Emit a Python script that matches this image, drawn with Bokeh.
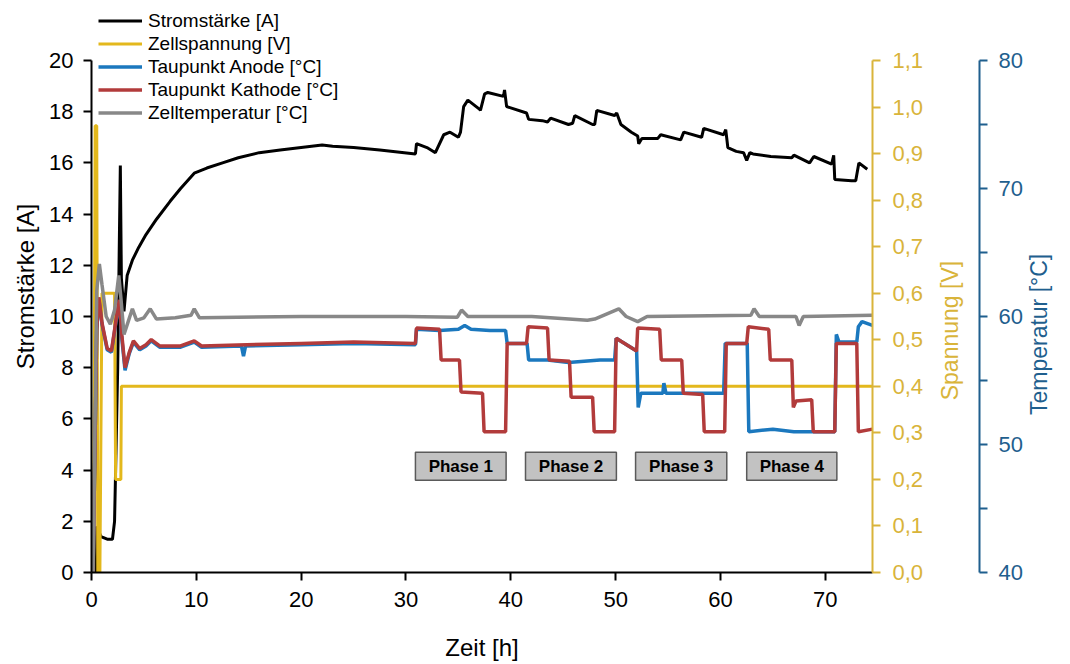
import math
from bokeh.plotting import figure
from bokeh.models import (Range1d, LinearAxis, FixedTicker, CustomJSTickFormatter,
                          Legend, LegendItem, ColumnDataSource)
from bokeh.core.properties import value
from bokeh.embed import file_html
from bokeh.resources import INLINE

# ---------------- data ----------------
# Stromstärke [A]
t_i = [0, 0.4, 0.5, 0.9, 1.5, 2.0, 2.2, 2.5, 2.75, 2.85, 3.1, 3.4, 3.9, 4.5, 5.2, 6.2,
       7.5, 8.5, 9.8, 11.0, 12.5, 14.0, 16.0, 18.0, 20.0, 22.0, 23.0, 25.0, 27.5, 30.9,
       31.0, 32.0, 32.8, 33.6, 34.2, 35.0, 35.2, 35.5, 35.9, 37.0, 37.1, 37.5, 37.8, 39.3,
       39.4, 39.6, 41.5, 41.7, 43.0, 43.5, 43.8, 45.5, 45.9, 46.1, 47.8, 48.0, 48.2, 49.9,
       50.1, 50.5, 51.5, 52.1, 52.2, 52.5, 54.0, 54.3, 56.2, 56.5, 58.2, 58.4, 60.3, 60.5,
       60.7, 61.5, 62.2, 62.5, 62.8, 63.1, 64.8, 66.8, 67.0, 68.5, 68.9, 70.6, 70.8, 70.9,
       72.5, 72.9, 73.2, 74.0]
strom = [0, 0, 1.8, 1.4, 1.3, 1.3, 2.0, 8.0, 15.9, 11.5, 10.2, 11.6, 12.2, 12.7, 13.2, 13.8,
         14.5, 15.0, 15.6, 15.8, 16.0, 16.2, 16.4, 16.5, 16.6, 16.7, 16.65, 16.6, 16.5, 16.35,
         16.75, 16.6, 16.4, 17.1, 17.2, 17.0, 17.2, 18.2, 18.45, 18.1, 18.05, 18.7, 18.75, 18.6,
         18.85, 18.2, 17.95, 17.7, 17.65, 17.6, 17.75, 17.5, 17.55, 17.85, 17.5, 17.5, 18.05, 17.85,
         17.95, 17.5, 17.2, 17.05, 16.75, 16.95, 16.95, 17.1, 16.9, 17.2, 17.0, 17.35, 17.1, 17.3,
         16.6, 16.45, 16.4, 16.1, 16.4, 16.35, 16.25, 16.2, 16.3, 16.0, 16.25, 15.95, 16.3, 15.35,
         15.3, 15.3, 16.0, 15.75]

# Zellspannung [V]
t_v = [0, 0.2, 0.35, 0.5, 0.6, 0.8, 1.0, 2.2, 2.3, 2.8, 2.85, 74.5]
spannung = [0.0, 0.0, 0.96, 0.96, 0.0, 0.0, 0.6, 0.6, 0.2, 0.2, 0.4, 0.4]

# Zelltemperatur [°C]
t_z = [0, 0.15, 0.5, 0.75, 1.0, 1.4, 1.8, 2.2, 2.6, 2.8, 3.1, 3.5, 3.9, 4.3, 5.0, 5.6, 6.2,
       8.0, 9.5, 9.8, 10.3, 20.0, 30.0, 34.9, 35.3, 35.9, 42.0, 47.3, 48.0, 50.3, 51.0, 52.1,
       53.0, 62.9, 63.2, 63.7, 67.2, 67.5, 67.9, 74.5]
zelltemp = [40, 40, 62.0, 64.1, 62.5, 60.0, 59.4, 60.5, 63.2, 61.5, 58.6, 59.6, 60.6, 59.7, 59.9,
            60.6, 59.8, 59.9, 60.1, 60.6, 59.9, 60.0, 60.0, 59.95, 60.5, 60.0, 60.0, 59.7, 59.8,
            60.6, 60.0, 59.6, 60.0, 60.1, 60.6, 60.0, 60.0, 59.3, 60.0, 60.1]

# Taupunkt Kathode [°C]
t_k = [0, 0.15, 0.5, 0.7, 1.0, 1.5, 1.9, 2.3, 2.65, 2.9, 3.2, 3.6, 4.0, 4.6, 5.2, 5.7, 6.5,
       8.5, 9.8, 10.5, 20.0, 25.0, 30.9, 31.0, 33.2, 33.35, 35.1, 35.25, 37.3, 37.45, 39.5,
       39.65, 41.5, 41.65, 43.5, 43.65, 45.6, 45.75, 47.8, 47.95, 49.9, 50.05, 52.0, 52.1,
       54.2, 54.35, 56.3, 56.45, 58.3, 58.45, 60.4, 60.55, 62.5, 62.65, 64.6, 64.75, 66.8,
       66.95, 67.2, 68.7, 68.85, 70.9, 71.05, 73.0, 73.15, 74.5]
kathode = [40, 40, 59.0, 61.5, 59.5, 57.5, 57.3, 59.5, 61.3, 58.5, 56.0, 57.2, 58.1, 57.5, 57.8,
           58.2, 57.7, 57.7, 58.1, 57.7, 57.9, 58.0, 57.9, 59.1, 59.0, 56.6, 56.6, 54.1, 54.0,
           51.0, 51.0, 57.9, 57.9, 59.2, 59.1, 56.6, 56.5, 53.7, 53.7, 51.0, 51.0, 58.3, 57.3,
           59.1, 59.0, 56.6, 56.6, 54.0, 53.9, 51.0, 51.0, 57.9, 57.9, 59.2, 59.0, 56.6, 56.6,
           52.9, 53.4, 53.5, 51.0, 51.0, 57.9, 57.9, 51.0, 51.2]

# Taupunkt Anode [°C]
t_a = [0, 0.15, 0.5, 0.7, 1.0, 1.5, 1.9, 2.3, 2.65, 2.9, 3.2, 3.6, 4.0, 4.6, 5.2, 5.7, 6.5,
       8.5, 9.8, 10.5, 14.3, 14.5, 14.7, 20.0, 25.0, 30.9, 31.0, 33.2, 35.0, 35.6, 36.2, 38.0,
       39.5, 39.65, 41.55, 41.7, 43.5, 45.5, 47.0, 48.5, 49.9, 50.05, 52.0, 52.15, 52.4, 54.5,
       54.6, 54.8, 58.0, 60.3, 60.45, 62.55, 62.7, 65.0, 67.0, 68.8, 70.9, 71.05, 71.3, 73.0,
       73.15, 73.5, 74.5]
anode = [40, 40, 59.0, 61.4, 59.4, 57.4, 57.2, 59.4, 61.2, 58.2, 55.8, 57.1, 58.0, 57.4, 57.7,
         58.1, 57.6, 57.6, 58.0, 57.6, 57.7, 56.9, 57.7, 57.8, 57.9, 57.8, 59.0, 58.9, 59.0,
         59.3, 59.0, 58.9, 58.9, 57.9, 57.9, 56.6, 56.6, 56.4, 56.5, 56.6, 56.6, 58.3, 57.3,
         52.9, 54.0, 54.0, 54.8, 54.0, 54.0, 54.0, 57.9, 57.9, 51.0, 51.2, 51.0, 51.0, 51.0,
         58.6, 58.0, 58.0, 59.2, 59.6, 59.3]

# Phasen
phase_labels = ["Phase 1", "Phase 2", "Phase 3", "Phase 4"]
phase_start = [30.9, 41.4, 51.9, 62.5]
phase_end = [39.55, 50.07, 60.6, 71.1]

x_ticks = [0, 10, 20, 30, 40, 50, 60, 70]
i_ticks = [0, 2, 4, 6, 8, 10, 12, 14, 16, 18, 20]
v_ticks = [0.0, 0.1, 0.2, 0.3, 0.4, 0.5, 0.6, 0.7, 0.8, 0.9, 1.0, 1.1]
t_ticks = [40, 50, 60, 70, 80]
t_minor = [45, 55, 65, 75]

# ---------------- style ----------------
FONT = "Liberation Sans"
GOLD = "#E3B81C"
GOLD_AX = "#D9B43A"
BLUE = "#1B78BE"
BLUE_AX = "#1F5F8E"
RED = "#B23B3B"
GRAY = "#888888"

# frame spans the full height above the axes; axes are bounded to their data span
FRAME_TOP_PX, AXIS_TOP_PX, AXIS_BOTTOM_PX = 0, 60, 572
ext = (AXIS_BOTTOM_PX - FRAME_TOP_PX) / (AXIS_BOTTOM_PX - AXIS_TOP_PX)

p = figure(width=1070, height=664, x_range=Range1d(0, 74.5), y_range=Range1d(0, 20 * ext),
           output_backend="svg", toolbar_location=None, title=None,
           min_border_left=91, min_border_right=198, min_border_top=FRAME_TOP_PX,
           min_border_bottom=664 - AXIS_BOTTOM_PX)
p.extra_y_ranges = {"v": Range1d(0, 1.1 * ext), "t": Range1d(40, 40 + 40 * ext)}
p.outline_line_color = None
p.xgrid.visible = False
p.ygrid.visible = False
p.background_fill_color = "white"
p.border_fill_color = "white"


def style_axis(ax, color, label_size="22px", title_size="24px"):
    ax.axis_line_color = color
    ax.axis_line_width = 2
    ax.major_tick_line_color = color
    ax.major_tick_line_width = 2
    ax.major_tick_out = 8
    ax.major_tick_in = 0
    ax.minor_tick_line_color = None
    ax.major_label_text_font = FONT
    ax.major_label_text_font_size = label_size
    ax.major_label_text_color = color
    ax.axis_label_text_font = FONT
    ax.axis_label_text_font_size = title_size
    ax.axis_label_text_font_style = "normal"
    ax.axis_label_text_color = color


def title_axis(range_name, anchor, text, color, gap, standoff):
    """An axis without visible line/ticks whose single rotated label acts as a
    bottom-to-top axis title (as in the reference)."""
    ax = LinearAxis(y_range_name=range_name, ticker=FixedTicker(ticks=[anchor]),
                    formatter=CustomJSTickFormatter(code="return %r;" % text))
    ax.axis_line_color = None
    ax.major_tick_line_color = None
    ax.minor_tick_line_color = None
    ax.major_tick_out = gap
    ax.major_tick_in = 0
    ax.major_label_orientation = math.pi / 2
    ax.major_label_standoff = standoff
    ax.major_label_text_font = FONT
    ax.major_label_text_font_size = "23px"
    ax.major_label_text_color = color
    return ax


xa = p.xaxis[0]
xa.ticker = FixedTicker(ticks=x_ticks)
xa.axis_label = "Zeit [h]"
style_axis(xa, "black")
xa.major_label_standoff = 11
xa.axis_label_standoff = 24

ya = p.yaxis[0]
ya.ticker = FixedTicker(ticks=i_ticks)
ya.bounds = (0, 20)
ya.axis_label = "Stromstärke [A]"
style_axis(ya, "black")
ya.major_label_standoff = 10
ya.axis_label_standoff = 7

ax_v = LinearAxis(y_range_name="v", ticker=FixedTicker(ticks=v_ticks), bounds=(0, 1.1),
                  formatter=CustomJSTickFormatter(code="return tick.toFixed(1).replace('.', ',');"))
style_axis(ax_v, GOLD_AX)
ax_v.major_label_standoff = 12
p.add_layout(ax_v, "right")

# title "Spannung [V]": bottom edge of the text at 0.37 V
p.add_layout(title_axis("v", 0.37, "Spannung [V]", GOLD_AX, 12, 12), "right")

ax_t = LinearAxis(y_range_name="t", ticker=FixedTicker(ticks=t_ticks, minor_ticks=t_minor),
                  bounds=(40, 80))
style_axis(ax_t, BLUE_AX)
ax_t.minor_tick_line_color = BLUE_AX
ax_t.minor_tick_line_width = 2
ax_t.minor_tick_out = 8
ax_t.minor_tick_in = 0
ax_t.major_label_standoff = 11
p.add_layout(ax_t, "right")

# title "Temperatur [°C]": bottom edge of the text at 52.3 °C
p.add_layout(title_axis("t", 52.3, "Temperatur [°C]", BLUE_AX, 0, 14), "right")

# ---------------- glyphs ----------------
r_i = p.line(t_i, strom, line_color="black", line_width=3)
r_v = p.line(t_v, spannung, line_color=GOLD, line_width=3, y_range_name="v")
r_a = p.line(t_a, anode, line_color=BLUE, line_width=3.5, y_range_name="t")
r_k = p.line(t_k, kathode, line_color=RED, line_width=3.5, y_range_name="t")
r_z = p.line(t_z, zelltemp, line_color=GRAY, line_width=3.5, y_range_name="t")

box_bottom, box_top = 3.6, 4.7
src = ColumnDataSource(dict(left=phase_start, right=phase_end,
                            mid=[(a + b) / 2 for a, b in zip(phase_start, phase_end)],
                            label=phase_labels))
p.quad(left="left", right="right", bottom=box_bottom, top=box_top, source=src,
       fill_color="#C2C2C2", line_color="#5A5A5A", line_width=1.5)
p.text(x="mid", y=(box_bottom + box_top) / 2, text="label", source=src,
       text_align="center", text_baseline="middle", text_font=value(FONT),
       text_font_style="bold", text_font_size="17px", text_color="black")

legend = Legend(items=[
    LegendItem(label="Stromstärke [A]", renderers=[r_i]),
    LegendItem(label="Zellspannung [V]", renderers=[r_v]),
    LegendItem(label="Taupunkt Anode [°C]", renderers=[r_a]),
    LegendItem(label="Taupunkt Kathode [°C]", renderers=[r_k]),
    LegendItem(label="Zelltemperatur [°C]", renderers=[r_z]),
], location=(7, 448))
legend.label_text_font = FONT
legend.label_text_font_size = "19px"
legend.label_text_color = "black"
legend.glyph_width = 44
legend.glyph_height = 23
legend.label_height = 23
legend.spacing = 0
legend.padding = 0
legend.margin = 0
legend.label_standoff = 6
legend.border_line_color = None
legend.background_fill_alpha = 0
p.add_layout(legend, "center")

open("out.html", "w").write(file_html(p, INLINE))
